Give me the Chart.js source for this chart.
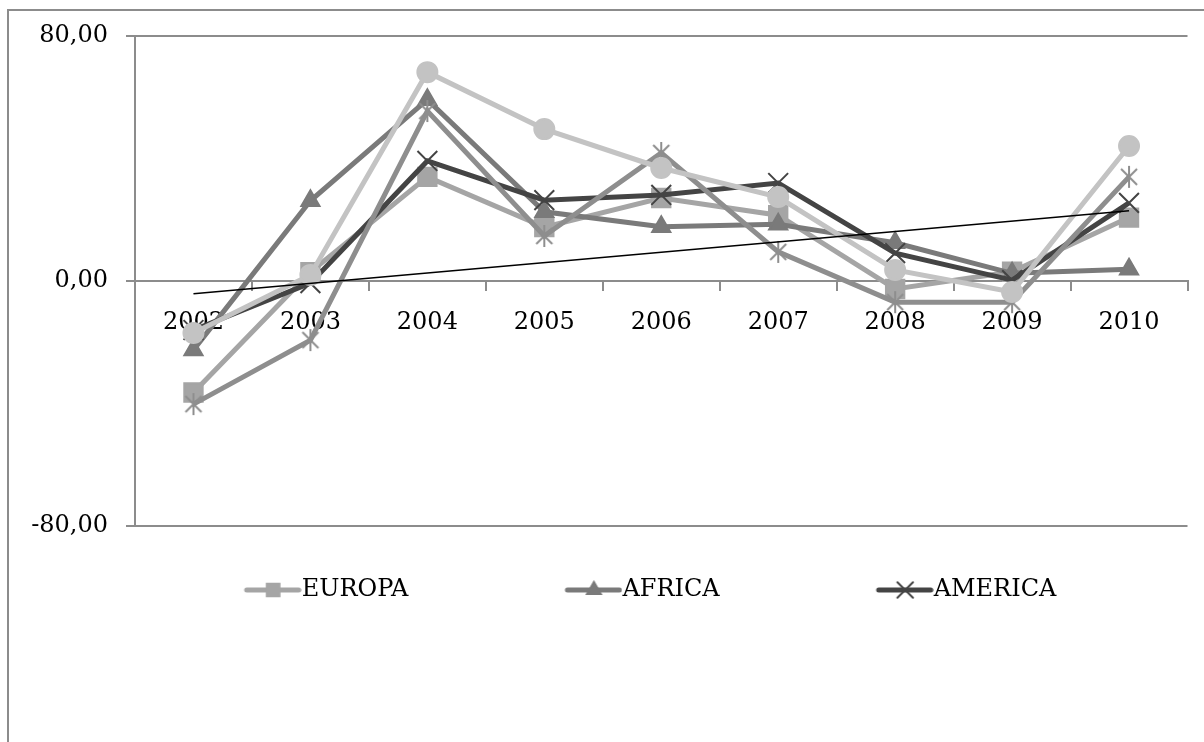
<!DOCTYPE html>
<html>
<head>
<meta charset="utf-8">
<script src="https://cdn.jsdelivr.net/npm/chart.js@4"></script>
<style>
  body { margin: 0; background: #fff; }
  canvas { display: block; }
</style>
</head>
<body>
<canvas id="chart" width="1204" height="742"></canvas>
<script>
const years = ["2002", "2003", "2004", "2005", "2006", "2007", "2008", "2009", "2010"];
const europa = [-36.4, 2.9, 34.0, 17.6, 27.1, 21.5, -2.6, 3.0, 20.7];
const africa = [-22.5, 26.2, 59.2, 22.6, 17.7, 18.5, 12.5, 2.5, 3.8];
const america = [-16.0, -0.7, 39.2, 26.4, 28.1, 32.0, 9.1, 0.3, 25.5];
const asia = [-40.2, -19.3, 55.5, 14.7, 41.8, 9.5, -6.9, -6.9, 34.0];
const oceania = [-17.0, 2.0, 68.2, 49.6, 36.9, 27.4, 3.6, -3.6, 44.1];
// linea de tendencia: solo los extremos
const trend = [-4.2, null, null, null, null, null, null, null, 22.9];
const yTicks = [-80, 0, 80];
const legendNames = ["EUROPA", "AFRICA", "AMERICA"];

const font = { family: "'DejaVu Serif', 'Liberation Serif', serif", size: 24 };
const axisGray = "#8c8c8c";

// icono de leyenda estilo Excel: linea con marcador
function legendIcon(color, style, radius) {
    const c = document.createElement("canvas");
    c.width = 174;
    c.height = 24;
    const g = c.getContext("2d");
    const cy = 12, cx = c.width - 28.5;
    g.strokeStyle = color;
    g.fillStyle = color;
    g.lineWidth = 5;
    g.lineCap = "round";
    g.beginPath();
    g.moveTo(c.width - 55, cy);
    g.lineTo(c.width - 3, cy);
    g.stroke();
    g.lineWidth = 2;
    Chart.helpers.drawPoint(g, { pointStyle: style, radius: radius, borderWidth: 2, rotation: 0 }, cx, cy);
    return c;
}

// asterisco de Excel: aspa + trazo vertical
function asterisk(color) {
    const c = document.createElement("canvas");
    c.width = 24;
    c.height = 24;
    const g = c.getContext("2d");
    g.strokeStyle = color;
    g.lineWidth = 2;
    g.beginPath();
    g.moveTo(4, 4); g.lineTo(20, 20);
    g.moveTo(20, 4); g.lineTo(4, 20);
    g.moveTo(12, 1); g.lineTo(12, 23);
    g.stroke();
    return c;
}

function series(label, values, color, style, radius, order) {
    return {
        label: label,
        data: values,
        borderColor: color,
        backgroundColor: color,
        borderWidth: 5,
        pointStyle: style,
        pointRadius: radius,
        pointBorderWidth: 2,
        pointBackgroundColor: color,
        pointBorderColor: color,
        tension: 0,
        order: order,
        yAxisID: "y",
    };
}

const datasets = [
    series("EUROPA", europa, "#a5a5a5", "rect", 13, 5),
    series("AFRICA", africa, "#7a7a7a", "triangle", 10.5, 4),
    series("AMERICA", america, "#444444", "crossRot", 14, 3),
    series("ASIA", asia, "#8e8e8e", asterisk("#8e8e8e"), 11, 2),
    series("OCEANIA", oceania, "#c3c3c3", "circle", 10, 1),
    {
        label: "Tendencia",
        data: trend,
        borderColor: "#000",
        borderWidth: 1.5,
        pointRadius: 0,
        spanGaps: true,
        order: 0,
        yAxisID: "y",
    },
];

const legendIcons = {
    EUROPA: legendIcon("#a5a5a5", "rect", 9),
    AFRICA: legendIcon("#7a7a7a", "triangle", 8),
    AMERICA: legendIcon("#444444", "crossRot", 11),
};

const framePlugin = {
    id: "frame",
    beforeDraw(chart) {
        const c = chart.ctx;
        c.save();
        c.strokeStyle = axisGray;
        c.lineWidth = 2;
        c.beginPath();
        c.moveTo(8, chart.height);
        c.lineTo(8, 10);
        c.lineTo(chart.width, 10);
        c.stroke();
        c.restore();
    },
};

const config = {
    type: "line",
    data: { labels: years, datasets: datasets },
    options: {
        responsive: false,
        animation: false,
        layout: { padding: { top: 36, left: 0, right: 8, bottom: 130 } },
        scales: {
            x: {
                type: "category",
                position: { y: 0 },
                offset: true,
                grid: {
                    offset: true,
                    drawOnChartArea: false,
                    tickLength: 9,
                    color: axisGray,
                    lineWidth: 2,
                },
                border: { color: axisGray, width: 2 },
                ticks: { font: font, color: "#000", padding: 18, maxRotation: 0, autoSkip: false },
                afterFit: (s) => { s.height = 0; },
            },
            y: {
                min: -80,
                max: 80,
                position: "left",
                afterBuildTicks: (s) => { s.ticks = yTicks.map((v) => ({ value: v })); },
                grid: { color: axisGray, lineWidth: 2, tickLength: 9 },
                border: { color: axisGray, width: 2 },
                ticks: {
                    font: font,
                    color: "#000",
                    padding: 18,
                    callback: (v) => v.toFixed(2).replace(".", ","),
                },
                afterFit: (s) => { s.width = 135; },
            },
            // margen derecho del area de trazado
            pad: {
                type: "linear",
                axis: "y",
                position: "right",
                grid: { display: false },
                border: { display: false },
                ticks: { display: false },
                afterFit: (s) => { s.width = 8.5; },
            },
        },
        plugins: {
            tooltip: { enabled: false },
            legend: {
                position: "bottom",
                labels: {
                    font: font,
                    color: "#000",
                    usePointStyle: true,
                    pointStyleWidth: 150,
                    padding: 52,
                    generateLabels(chart) {
                        const items = Chart.defaults.plugins.legend.labels.generateLabels(chart);
                        return items
                            .filter((it) => legendNames.includes(it.text))
                            .sort((a, b) => a.datasetIndex - b.datasetIndex)
                            .map((it) => Object.assign(it, { pointStyle: legendIcons[it.text] }));
                    },
                },
            },
        },
    },
    plugins: [framePlugin],
};

const chart = new Chart(document.getElementById("chart"), config);
</script>
</body>
</html>
